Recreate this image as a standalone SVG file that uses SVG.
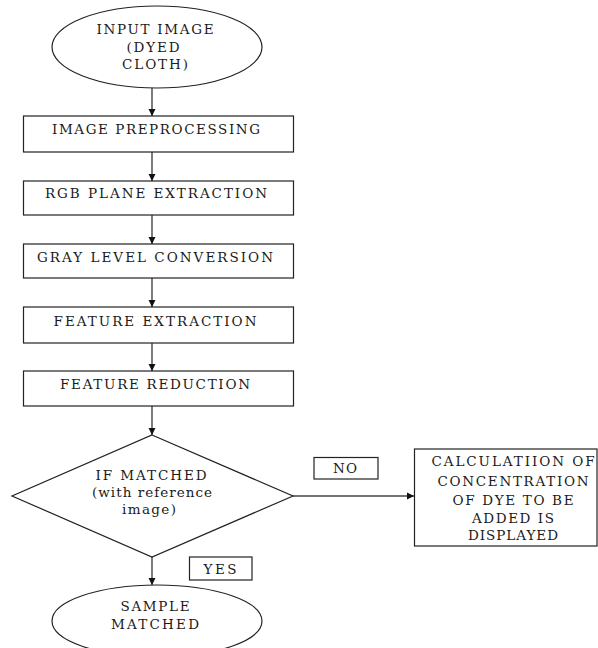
<svg xmlns="http://www.w3.org/2000/svg" width="598" height="648" viewBox="0 0 598 648">
<style>
.shape{fill:#fff;stroke:#222;stroke-width:1.2}
.t{font-family:"DejaVu Serif","Liberation Serif",serif;font-size:13.5px;fill:#1a1a1a;text-anchor:middle}
.c{stroke:#444;stroke-width:1.4;fill:none;marker-end:url(#ah)}
</style>
<defs>
<marker id="ah" markerUnits="userSpaceOnUse" markerWidth="8" markerHeight="8" refX="7" refY="4" orient="auto">
<path d="M0,0.5 L7,4 L0,7.5 z" fill="#111"/>
</marker>
</defs>
<rect width="598" height="648" fill="#fff"/>
<g id="connectors">
<line class="c" x1="152" y1="88" x2="152" y2="116"/>
<line class="c" x1="152" y1="152" x2="152" y2="181"/>
<line class="c" x1="152" y1="215" x2="152" y2="244"/>
<line class="c" x1="152" y1="278" x2="152" y2="307"/>
<line class="c" x1="152" y1="343" x2="152" y2="371"/>
<line class="c" x1="152" y1="406" x2="152" y2="435"/>
<line class="c" x1="293" y1="496" x2="414" y2="496"/>
<line class="c" x1="152" y1="557" x2="152" y2="585"/>
</g>
<g id="start">
<ellipse class="shape" cx="157" cy="47" rx="105" ry="41"/>
<text class="t" x="155" y="34" textLength="117" lengthAdjust="spacing">INPUT IMAGE</text>
<text class="t" x="153" y="52" textLength="53" lengthAdjust="spacing">(DYED</text>
<text class="t" x="155" y="69" textLength="66" lengthAdjust="spacing">CLOTH)</text>
</g>
<g id="preprocessing">
<rect class="shape" x="23.5" y="116" width="270" height="36"/>
<text class="t" x="156" y="134" textLength="208" lengthAdjust="spacing">IMAGE PREPROCESSING</text>
</g>
<g id="rgb">
<rect class="shape" x="23.5" y="181" width="270" height="34"/>
<text class="t" x="156" y="198" textLength="222" lengthAdjust="spacing">RGB PLANE EXTRACTION</text>
</g>
<g id="gray">
<rect class="shape" x="23.5" y="244" width="270" height="34"/>
<text class="t" x="155" y="262" textLength="236" lengthAdjust="spacing">GRAY LEVEL CONVERSION</text>
</g>
<g id="featext">
<rect class="shape" x="23.5" y="307" width="270" height="36"/>
<text class="t" x="155" y="326" textLength="203" lengthAdjust="spacing">FEATURE EXTRACTION</text>
</g>
<g id="featred">
<rect class="shape" x="23.5" y="371" width="270" height="35"/>
<text class="t" x="155" y="389" textLength="190" lengthAdjust="spacing">FEATURE REDUCTION</text>
</g>
<g id="decision">
<polygon class="shape" points="152,435 293,496 152,557 12,496"/>
<text class="t" x="151" y="480" textLength="111" lengthAdjust="spacing">IF MATCHED</text>
<text class="t" x="152" y="497" textLength="120" lengthAdjust="spacing">(with reference</text>
<text class="t" x="149" y="514" textLength="54" lengthAdjust="spacing">image)</text>
</g>
<g id="no-label">
<rect class="shape" x="314" y="457.5" width="64" height="21.5"/>
<text class="t" x="345" y="473" textLength="24" lengthAdjust="spacing">NO</text>
</g>
<g id="calc">
<rect class="shape" x="414.5" y="449" width="182.5" height="97"/>
<text class="t" x="513" y="466" textLength="163" lengthAdjust="spacing">CALCULATIION OF</text>
<text class="t" x="513" y="486" textLength="151" lengthAdjust="spacing">CONCENTRATION</text>
<text class="t" x="513" y="505" textLength="121" lengthAdjust="spacing">OF DYE TO BE</text>
<text class="t" x="513" y="523" textLength="82" lengthAdjust="spacing">ADDED IS</text>
<text class="t" x="513" y="540" textLength="90" lengthAdjust="spacing">DISPLAYED</text>
</g>
<g id="yes-label">
<rect class="shape" x="189.5" y="557" width="62.5" height="23"/>
<text class="t" x="220" y="574" textLength="33" lengthAdjust="spacing">YES</text>
</g>
<g id="end">
<ellipse class="shape" cx="157" cy="621" rx="105" ry="36"/>
<text class="t" x="155" y="611" textLength="69" lengthAdjust="spacing">SAMPLE</text>
<text class="t" x="155" y="629" textLength="88" lengthAdjust="spacing">MATCHED</text>
</g>
</svg>
